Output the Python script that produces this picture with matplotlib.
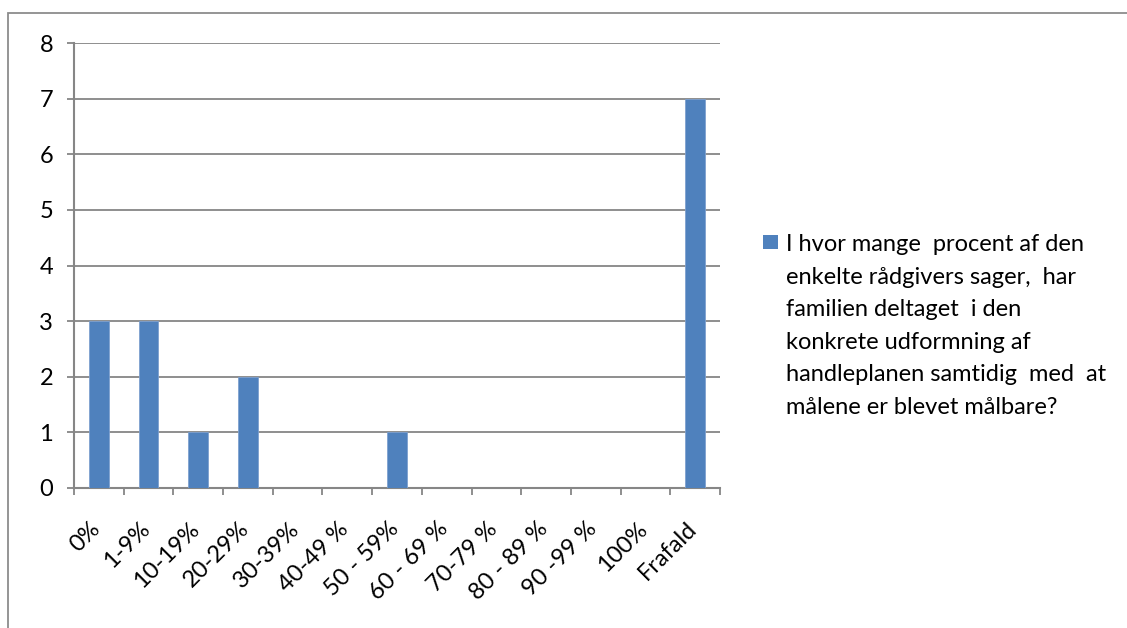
import matplotlib
matplotlib.use("Agg")
import matplotlib.pyplot as plt
from matplotlib.patches import Rectangle
from matplotlib.transforms import ScaledTranslation
import numpy as np

categories = ["0%", "1-9%", "10-19%", "20-29%", "30-39%", "40-49 %", "50 - 59%",
              "60 - 69 %", "70-79 %", "80 - 89 %", "90 -99 %", "100%", "Frafald"]
counts = [3, 3, 1, 2, 0, 0, 1, 0, 0, 0, 0, 0, 7]
series_label = ("I hvor mange  procent af den\n"
                "enkelte rådgivers sager,  har\n"
                "familien deltaget  i den\n"
                "konkrete udformning af\n"
                "handleplanen samtidig  med  at\n"
                "målene er blevet målbare?")
y_ticks = list(range(0, 9))

plt.rcParams['font.family'] = ['Lato', 'DejaVu Sans']

W, H = 1127, 628
fig = plt.figure(figsize=(W / 100, H / 100), dpi=100)

def fx(px):
    return px / W

def fy(py):
    return 1 - py / H

grid_col = "#868686"
bar_col = "#4F81BD"

# outer chart frame
fig.patches.append(Rectangle((fx(8), fy(640)), fx(1200), fy(13) - fy(640),
                             transform=fig.transFigure, fill=False,
                             edgecolor="#8c8c8c", linewidth=1.3))

left, right, top, bottom = 74, 720, 43, 488
ax = fig.add_axes([fx(left), fy(bottom), fx(right - left), fy(top) - fy(bottom)])

x = np.arange(len(categories))
ax.bar(x, counts, width=0.4, color=bar_col, edgecolor="#7ea1cf", linewidth=0.6,
       zorder=3, label=series_label)

ax.set_xlim(-0.5, len(categories) - 0.5)
ax.set_ylim(0, 8)
ax.set_yticks(y_ticks)
ax.set_yticklabels([str(v) for v in y_ticks], fontsize=17)
ax.yaxis.grid(True, color=grid_col, linewidth=1.3, zorder=0)
ax.set_axisbelow(True)

for s in ["top", "right"]:
    ax.spines[s].set_visible(False)
for s in ["left", "bottom"]:
    ax.spines[s].set_color(grid_col)
    ax.spines[s].set_linewidth(1.5)

ax.tick_params(axis="y", length=5, width=1.3, color=grid_col, pad=10)

# category boundary ticks on the x axis, labels centered on the bars
ax.set_xticks(np.arange(-0.5, len(categories), 1.0), minor=True)
ax.set_xticks(x)
ax.tick_params(axis="x", which="minor", length=5, width=1.3, color=grid_col)
ax.tick_params(axis="x", which="major", length=0, pad=27)
ax.set_xticklabels(categories, rotation=45, ha="right", va="center",
                   rotation_mode="anchor", fontsize=17)
offset = ScaledTranslation(-2 / 100, 0, fig.dpi_scale_trans)
for lbl in ax.get_xticklabels():
    lbl.set_transform(lbl.get_transform() + offset)

# legend drawn beside the plot
fig.patches.append(Rectangle((fx(763), fy(249)), fx(15), fy(235) - fy(249),
                             transform=fig.transFigure, facecolor=bar_col,
                             edgecolor="none"))
fig.text(fx(786), fy(234), series_label, ha="left", va="top", fontsize=17,
         linespacing=1.68, color="#000000")

fig.savefig("out.png", dpi=100)
